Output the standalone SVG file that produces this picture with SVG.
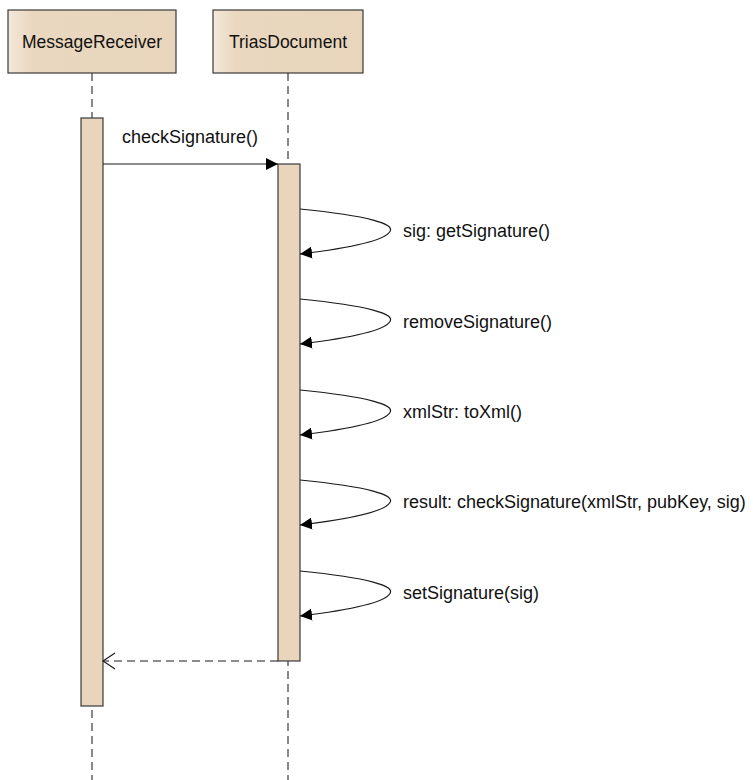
<svg xmlns="http://www.w3.org/2000/svg" width="753" height="780" viewBox="0 0 753 780">
  <style>
    .head { stroke: #3a3a3a; stroke-width: 1.2; }
    .act { fill: #e8d5bc; stroke: #3a3a3a; stroke-width: 1.2; }
    .life { stroke: #3a3a3a; stroke-width: 1.2; stroke-dasharray: 8 5; fill: none; }
    .msg { stroke: #1a1a1a; stroke-width: 1.2; fill: none; }
    .ret { stroke: #1a1a1a; stroke-width: 1.2; fill: none; stroke-dasharray: 8 5; }
    text { font-family: "Liberation Sans", Arial, sans-serif; font-size: 18px; fill: #111; }
    .title { text-anchor: middle; font-size: 17.5px; }
  </style>
  <defs>
    <linearGradient id="headFill" x1="0" y1="0" x2="1" y2="0">
      <stop offset="0" stop-color="#f3e8da"/>
      <stop offset="0.15" stop-color="#e9d7bf"/>
      <stop offset="1" stop-color="#e8d5bc"/>
    </linearGradient>
    <marker id="filled" viewBox="0 0 12 12" refX="12" refY="6" markerWidth="12" markerHeight="12" markerUnits="userSpaceOnUse" orient="auto">
      <path d="M0,0 L12,6 L0,12 Z" fill="#000"/>
    </marker>
    <marker id="open" viewBox="0 0 14 18" refX="13" refY="9" markerWidth="14" markerHeight="18" markerUnits="userSpaceOnUse" orient="auto">
      <path d="M1,1 L13,9 L1,17" fill="none" stroke="#1a1a1a" stroke-width="1.2"/>
    </marker>
  </defs>

  <!-- lifelines -->
  <g id="lifelines">
    <line class="life" x1="92" y1="73" x2="92" y2="780"/>
    <line class="life" x1="288" y1="73" x2="288" y2="780"/>
  </g>

  <g id="MessageReceiver">
    <rect class="head" x="8" y="10" width="168" height="63" fill="url(#headFill)"/>
    <text class="title" x="92" y="48">MessageReceiver</text>
    <rect class="act" x="81" y="118" width="22" height="588"/>
  </g>

  <g id="TriasDocument">
    <rect class="head" x="213" y="10" width="150" height="63" fill="url(#headFill)"/>
    <text class="title" x="288" y="48">TriasDocument</text>
    <rect class="act" x="278" y="164" width="22" height="497"/>
  </g>

  <!-- messages -->
  <g id="connectors">
    <line class="msg" x1="103" y1="164" x2="278" y2="164" marker-end="url(#filled)"/>
    <text x="122" y="143">checkSignature()</text>

    <path class="msg" d="M300,209 C370,216 395,224 390,231.5 C385,240 350,248 300,254" marker-end="url(#filled)"/>
    <text x="403" y="237">sig: getSignature()</text>

    <path class="msg" d="M300,299 C370,306 395,314 390,321.5 C385,330 350,338 300,344" marker-end="url(#filled)"/>
    <text x="403" y="328">removeSignature()</text>

    <path class="msg" d="M300,390 C370,397 395,405 390,412.5 C385,421 350,429 300,435" marker-end="url(#filled)"/>
    <text x="403" y="418">xmlStr: toXml()</text>

    <path class="msg" d="M300,480 C370,487 395,495 390,502.5 C385,511 350,519 300,525" marker-end="url(#filled)"/>
    <text x="403" y="508">result: checkSignature(xmlStr, pubKey, sig)</text>

    <path class="msg" d="M300,571 C370,578 395,586 390,593.5 C385,602 350,610 300,616" marker-end="url(#filled)"/>
    <text x="403" y="599">setSignature(sig)</text>

    <line class="ret" x1="278" y1="661" x2="103" y2="661" marker-end="url(#open)"/>
  </g>
</svg>
